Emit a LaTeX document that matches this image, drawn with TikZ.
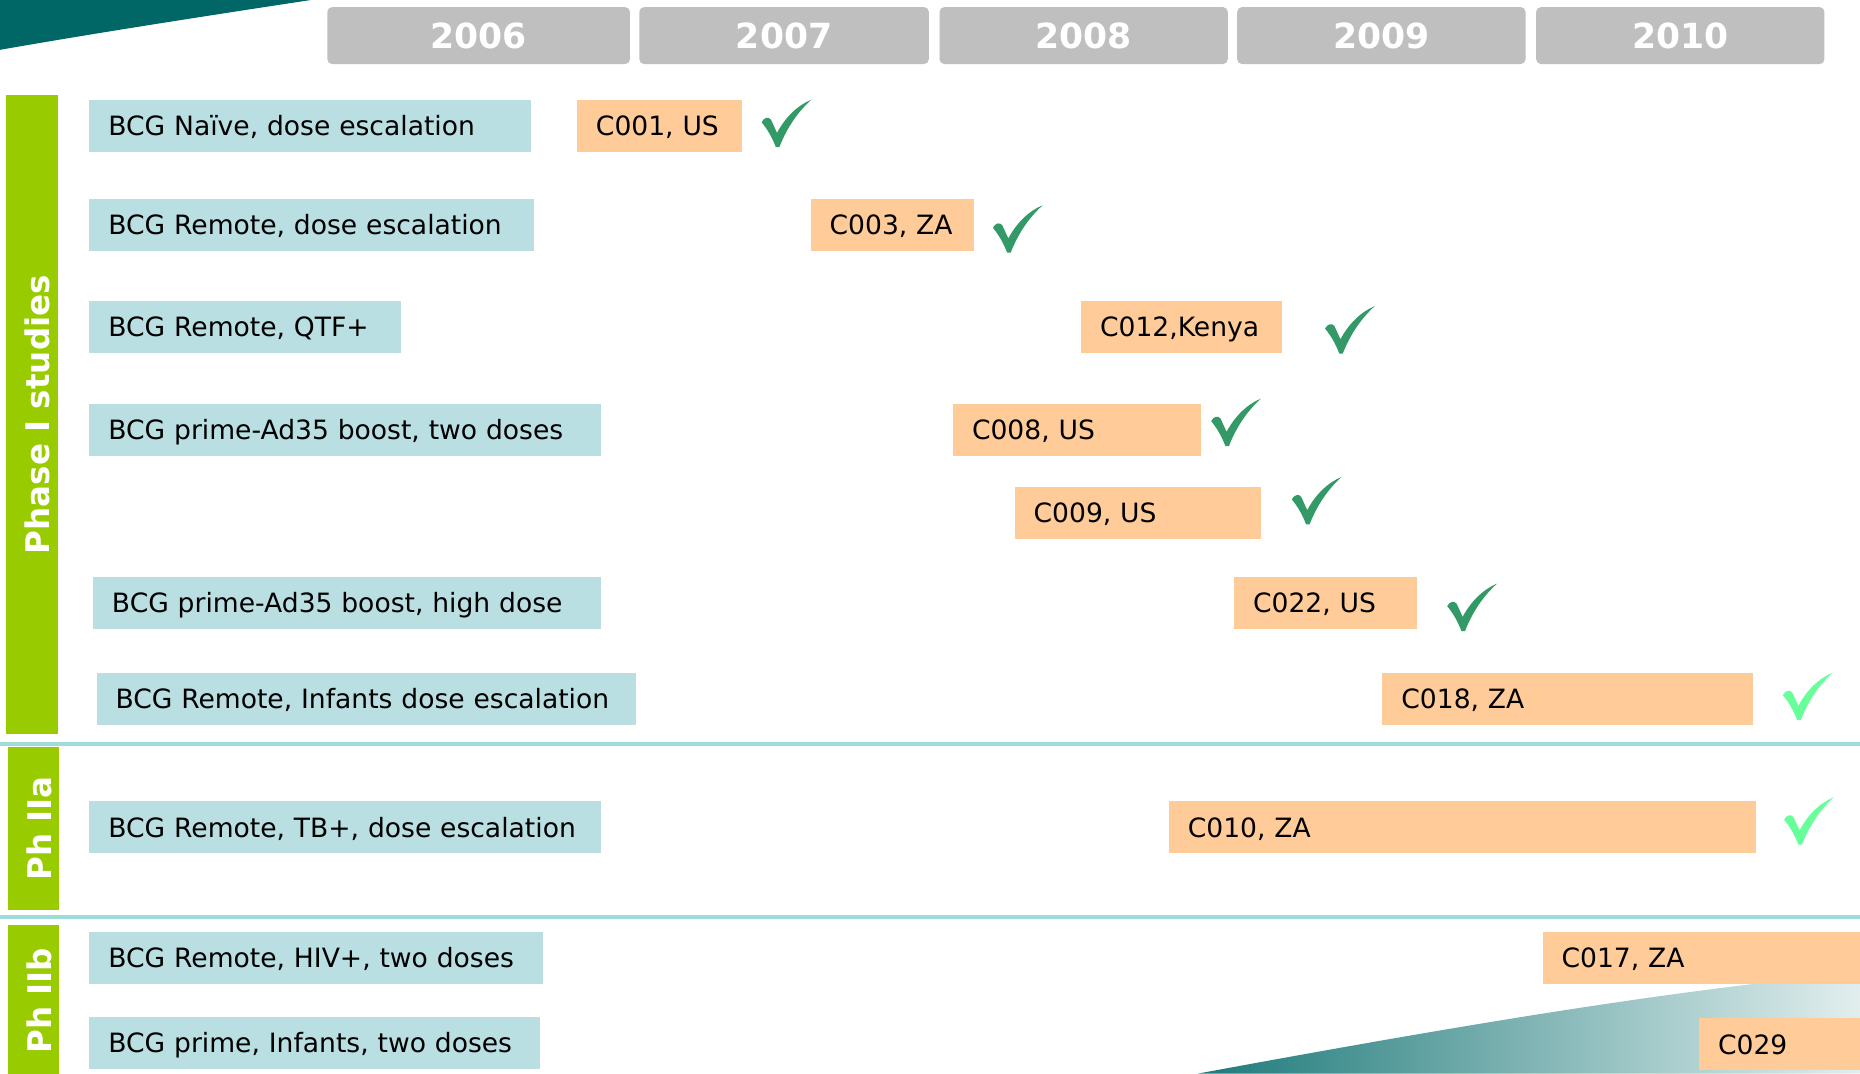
\documentclass[tikz,border=0pt]{standalone}
\usepackage{fontspec}
\setmainfont{DejaVu Sans}
\definecolor{swoopteal}{RGB}{0,102,102}
\definecolor{swoopdark}{RGB}{30,122,122}
\definecolor{swooplight}{RGB}{226,238,238}
\definecolor{yeargray}{RGB}{191,191,191}
\definecolor{phasegreen}{RGB}{153,204,0}
\definecolor{studyblue}{RGB}{185,223,227}
\definecolor{trialorange}{RGB}{255,204,153}
\definecolor{septeal}{RGB}{158,220,220}
\definecolor{tickdark}{RGB}{51,153,102}
\definecolor{ticklight}{RGB}{102,255,153}
\begin{document}
\begin{tikzpicture}[x=0.5pt,y=-0.5pt,
    year/.style={fill=yeargray,rounded corners=2pt,minimum height=24pt,inner sep=0pt,text=white,
        text height=10.5pt,text depth=0pt,font=\fontsize{14.6}{16}\selectfont\bfseries},
    phase/.style={fill=phasegreen,rotate=90,minimum height=22pt,inner sep=0pt,text=white,
        text height=15pt,text depth=0pt,font=\fontsize{13.7}{15}\selectfont\bfseries},
    study/.style={fill=studyblue,anchor=north west,minimum height=22pt,inner xsep=8pt,inner ysep=0pt,
        text width=#1,align=left,text height=8.2pt,text depth=0pt,font=\fontsize{11.2}{13}\selectfont},
    trial/.style={study=#1,fill=trialorange},
    sepline/.style={draw=septeal,line width=1.5pt},
    pics/tick/.style={code={
        \fill[#1] (0,19) .. controls (2,15) and (6,14) .. (8,17) -- (13,28)
            .. controls (20,15) and (30,5) .. (42,0) .. controls (32,9) and (22,22) .. (15,40)
            -- (12,40) .. controls (9,32) and (5,25) .. (0,19) -- cycle;}}]
    \useasboundingbox (0,0) rectangle (1568,905);
    %% Corner swooshes
    \fill[swoopteal] (0,0) -- (262,0) .. controls (170,14) and (80,28) .. (0,42) -- cycle;
    \shade[left color=swoopdark,right color=swooplight] (1010,905) .. controls (1200,870) and (1400,835) .. (1568,820) -- (1568,905) -- cycle;
    %% Years
    \node[year,minimum width=127.5pt] (y2006) at (403.5,30) {2006};
    \node[year,minimum width=122pt] (y2007) at (661,30) {2007};
    \node[year,minimum width=121.5pt] (y2008) at (913.5,30) {2008};
    \node[year,minimum width=121.5pt] (y2009) at (1164.5,30) {2009};
    \node[year,minimum width=121.5pt] (y2010) at (1416.5,30) {2010};
    %% Phases
    \node[phase,minimum width=269.5pt] (phaseI) at (27,349.5) {Phase I studies};
    \node[phase,minimum width=68.5pt,minimum height=21.5pt] (phaseIIa) at (28.5,698.5) {Ph IIa};
    \node[phase,minimum width=63.5pt,minimum height=21.5pt] (phaseIIb) at (28.5,843.5) {Ph IIb};
    \draw[sepline] (0,627) -- (1568,627);
    \draw[sepline] (0,773) -- (1568,773);
    %% Studies
    \node[study=170pt] (naive) at (75,84) {BCG Naïve, dose escalation};
    \node[study=171.5pt] (remote) at (75,167) {BCG Remote, dose escalation};
    \node[study=115.5pt] (qtf) at (75,253) {BCG Remote, QTF+};
    \node[study=199.5pt] (twodose) at (75,340) {BCG prime-Ad35 boost, two doses};
    \node[study=198pt] (highdose) at (78,486) {BCG prime-Ad35 boost, high dose};
    \node[study=211.5pt] (infants) at (81,567) {BCG Remote, Infants dose escalation};
    \node[study=199.5pt] (tbpos) at (75,675) {BCG Remote, TB+, dose escalation};
    \node[study=175pt] (hivpos) at (75,785) {BCG Remote, HIV+, two doses};
    \node[study=174pt] (infprime) at (75,857) {BCG prime, Infants, two doses};
    %% Trials
    \node[trial=53.5pt] (c001) at (486,84) {C001, US};
    \node[trial=53pt] (c003) at (683,167) {C003, ZA};
    \node[trial=68.5pt] (c012) at (911,253) {C012,Kenya};
    \node[trial=88.5pt] (c008) at (803,340) {C008, US};
    \node[trial=88pt] (c009) at (855,410) {C009, US};
    \node[trial=61pt] (c022) at (1040,486) {C022, US};
    \node[trial=140pt] (c018) at (1165,567) {C018, ZA};
    \node[trial=231.5pt] (c010) at (985,675) {C010, ZA};
    \node[trial=118pt] (c017) at (1300,785) {C017, ZA};
    \node[trial=52pt] (c029) at (1432,858) {C029};
    %% Ticks
    \pic at (642,84) {tick=tickdark};
    \pic at (837,173) {tick=tickdark};
    \pic at (1117,258) {tick=tickdark};
    \pic at (1021,336) {tick=tickdark};
    \pic at (1089,402) {tick=tickdark};
    \pic at (1220,492) {tick=tickdark};
    \pic at (1503,567) {tick=ticklight};
    \pic at (1504,672) {tick=ticklight};
\end{tikzpicture}
\end{document}
